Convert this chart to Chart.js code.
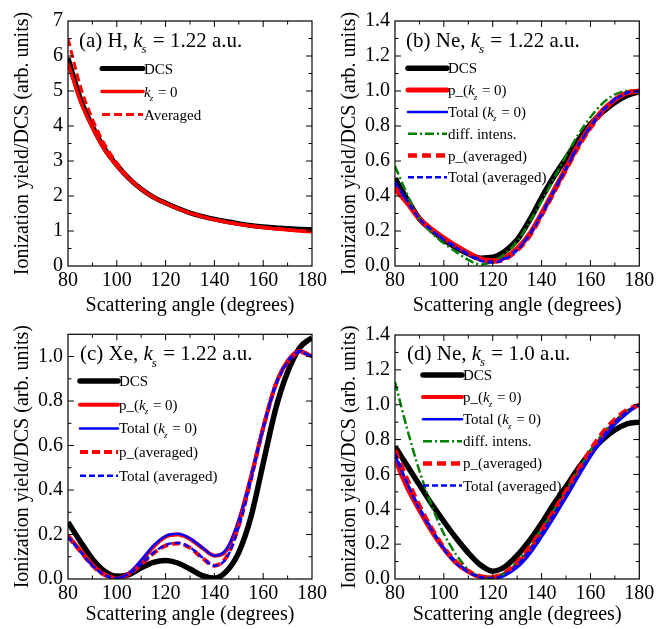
<!DOCTYPE html>
<html lang="en">
<head>
<meta charset="UTF-8">
<script src="https://cdn.jsdelivr.net/npm/chart.js@4.4.0/dist/chart.umd.min.js"></script>
<title>Ionization yield / DCS</title>
<style>
  body { margin: 0; background: #fff; width: 668px; height: 629px; position: relative; overflow: hidden; }
  canvas { position: absolute; }
</style>
</head>
<body>
<canvas id="pa" width="334" height="320" style="left:0;top:0;width:334px;height:320px"></canvas>
<canvas id="pb" width="334" height="320" style="left:334px;top:0;width:334px;height:320px"></canvas>
<canvas id="pc" width="334" height="319" style="left:0;top:310px;width:334px;height:319px"></canvas>
<canvas id="pd" width="334" height="319" style="left:334px;top:310px;width:334px;height:319px"></canvas>
<script>
// scattering angle (degrees)
var angles = [80, 85, 90, 95, 100, 105, 110, 115, 120, 125, 130, 135, 140, 145, 150, 155, 160, 165, 170, 175, 180];

// (a) H, ks = 1.22
var hDcs = [5.95, 4.8, 4.0, 3.35, 2.88, 2.5, 2.2, 1.97, 1.8, 1.65, 1.52, 1.42, 1.34, 1.27, 1.21, 1.16, 1.12, 1.09, 1.07, 1.05, 1.04];
var hKz0 = [5.8, 4.72, 3.95, 3.32, 2.86, 2.49, 2.19, 1.96, 1.79, 1.64, 1.51, 1.41, 1.32, 1.25, 1.19, 1.14, 1.1, 1.06, 1.03, 1.0, 0.98];
var hAvg = [6.5, 5.15, 4.2, 3.48, 2.95, 2.53, 2.22, 1.98, 1.8, 1.65, 1.52, 1.42, 1.33, 1.26, 1.2, 1.15, 1.11, 1.07, 1.04, 1.01, 0.99];

// (b) Ne, ks = 1.22
var neDcs    = [0.50, 0.38, 0.27, 0.205, 0.15, 0.105, 0.07, 0.045, 0.05, 0.085, 0.15, 0.26, 0.39, 0.51, 0.615, 0.72, 0.81, 0.88, 0.935, 0.975, 0.995];
var neP0     = [0.44, 0.36, 0.27, 0.21, 0.16, 0.115, 0.075, 0.04, 0.03, 0.05, 0.10, 0.18, 0.30, 0.43, 0.56, 0.69, 0.80, 0.89, 0.95, 0.99, 1.0];
var neTot0   = [0.47, 0.37, 0.27, 0.205, 0.155, 0.11, 0.07, 0.035, 0.025, 0.045, 0.095, 0.18, 0.30, 0.43, 0.56, 0.69, 0.80, 0.89, 0.955, 0.99, 1.0];
var neDiff   = [0.57, 0.41, 0.27, 0.19, 0.13, 0.08, 0.035, 0.008, 0.025, 0.07, 0.14, 0.25, 0.37, 0.50, 0.63, 0.75, 0.85, 0.93, 0.98, 1.0, 0.985];
var nePAvg   = [0.45, 0.36, 0.27, 0.21, 0.16, 0.115, 0.075, 0.04, 0.025, 0.04, 0.09, 0.17, 0.29, 0.42, 0.55, 0.68, 0.79, 0.88, 0.95, 0.99, 1.0];
var neTotAvg = [0.48, 0.37, 0.27, 0.205, 0.15, 0.105, 0.065, 0.03, 0.02, 0.04, 0.09, 0.175, 0.29, 0.425, 0.555, 0.685, 0.795, 0.885, 0.95, 0.99, 1.0];

// (c) Xe, ks = 1.22
var xeDcs    = [0.255, 0.17, 0.09, 0.035, 0.012, 0.02, 0.05, 0.075, 0.083, 0.072, 0.045, 0.015, 0.003, 0.035, 0.12, 0.28, 0.52, 0.76, 0.93, 1.04, 1.085];
var xeP0     = [0.195, 0.13, 0.065, 0.02, 0.003, 0.025, 0.08, 0.145, 0.19, 0.2, 0.18, 0.14, 0.105, 0.13, 0.26, 0.46, 0.68, 0.87, 0.98, 1.025, 1.0];
var xeTot0   = [0.19, 0.125, 0.06, 0.018, 0.004, 0.028, 0.085, 0.15, 0.193, 0.203, 0.183, 0.142, 0.105, 0.135, 0.265, 0.465, 0.685, 0.875, 0.98, 1.025, 1.0];
var xePAvg   = [0.19, 0.125, 0.06, 0.018, 0.004, 0.022, 0.065, 0.115, 0.15, 0.16, 0.14, 0.095, 0.06, 0.10, 0.24, 0.45, 0.68, 0.87, 0.975, 1.02, 1.0];
var xeTotAvg = [0.19, 0.125, 0.06, 0.018, 0.004, 0.024, 0.068, 0.118, 0.153, 0.162, 0.142, 0.097, 0.06, 0.095, 0.235, 0.445, 0.675, 0.865, 0.975, 1.02, 1.0];

// (d) Ne, ks = 1.0
var ne1Dcs    = [0.76, 0.65, 0.54, 0.43, 0.33, 0.235, 0.15, 0.08, 0.045, 0.07, 0.135, 0.22, 0.32, 0.43, 0.53, 0.635, 0.725, 0.80, 0.855, 0.89, 0.90];
var ne1P0     = [0.68, 0.52, 0.39, 0.27, 0.17, 0.09, 0.04, 0.012, 0.01, 0.03, 0.085, 0.165, 0.265, 0.375, 0.49, 0.61, 0.72, 0.82, 0.90, 0.96, 1.0];
var ne1Tot0   = [0.71, 0.55, 0.41, 0.29, 0.18, 0.10, 0.045, 0.012, 0.004, 0.02, 0.065, 0.14, 0.24, 0.35, 0.465, 0.585, 0.70, 0.80, 0.885, 0.95, 1.0];
var ne1Diff   = [1.13, 0.86, 0.62, 0.42, 0.26, 0.14, 0.055, 0.01, 0.005, 0.035, 0.10, 0.185, 0.285, 0.395, 0.51, 0.625, 0.735, 0.835, 0.91, 0.965, 1.0];
var ne1PAvg   = [0.74, 0.57, 0.42, 0.29, 0.18, 0.10, 0.045, 0.015, 0.01, 0.035, 0.095, 0.18, 0.28, 0.39, 0.505, 0.625, 0.74, 0.84, 0.915, 0.97, 1.0];
var ne1TotAvg = [0.72, 0.55, 0.40, 0.28, 0.17, 0.09, 0.04, 0.01, 0.005, 0.025, 0.08, 0.16, 0.26, 0.37, 0.48, 0.60, 0.715, 0.815, 0.90, 0.96, 1.0];

var serif = '"Liberation Serif", "Times New Roman", serif';

// text with k_s / k_z : italic k + subscript letter
function rich(ctx, text, x, y, size) {
  var parts = text.split(/(k_[a-z])/);
  for (var i = 0; i < parts.length; i++) {
    var p = parts[i];
    if (!p) continue;
    if (/^k_[a-z]$/.test(p)) {
      ctx.font = 'italic ' + size + 'px ' + serif;
      ctx.fillText('k', x, y);
      x += ctx.measureText('k').width;
      ctx.font = 'italic ' + Math.round(size * 0.62) + 'px ' + serif;
      ctx.fillText(p[2], x - 1, y + size * 0.3);
      x += ctx.measureText(p[2]).width;
    } else {
      ctx.font = size + 'px ' + serif;
      ctx.fillText(p, x, y);
      x += ctx.measureText(p).width;
    }
  }
}

// box round the plot with inward ticks on all four sides
var frame = {
  id: 'frame',
  afterDatasetsDraw: function (chart, args, o) {
    var ctx = chart.ctx, a = chart.chartArea, sx = chart.scales.x, sy = chart.scales.y;
    ctx.save();
    ctx.strokeStyle = '#000';
    ctx.lineWidth = 1.2;
    ctx.strokeRect(a.left, a.top, a.right - a.left, a.bottom - a.top);
    ctx.lineWidth = 1;
    ctx.beginPath();
    var n, v, p, len;
    for (n = 1; (v = sx.min + n * o.xMinor) < sx.max - 1e-9; n++) {
      p = sx.getPixelForValue(v);
      len = Math.abs(v / o.xMajor - Math.round(v / o.xMajor)) < 1e-6 ? 6 : 3.5;
      ctx.moveTo(p, a.bottom); ctx.lineTo(p, a.bottom - len);
      ctx.moveTo(p, a.top); ctx.lineTo(p, a.top + len);
    }
    for (n = 1; (v = sy.min + n * o.yMinor) < sy.max - 1e-9; n++) {
      p = sy.getPixelForValue(v);
      len = Math.abs(v / o.yMajor - Math.round(v / o.yMajor)) < 1e-6 ? 6 : 3.5;
      ctx.moveTo(a.left, p); ctx.lineTo(a.left + len, p);
      ctx.moveTo(a.right, p); ctx.lineTo(a.right - len, p);
    }
    ctx.stroke();
    ctx.restore();
  }
};

// panel label and legend inside the plot
var notes = {
  id: 'notes',
  afterDraw: function (chart, args, o) {
    var ctx = chart.ctx, a = chart.chartArea;
    ctx.save();
    ctx.textBaseline = 'alphabetic';
    ctx.fillStyle = '#000';
    rich(ctx, o.title, a.left + o.tx, a.top + o.ty, 21);
    chart.data.datasets.forEach(function (d, i) {
      var x = a.left + o.lx, y = a.top + o.ly + i * o.dy;
      ctx.beginPath();
      ctx.strokeStyle = d.borderColor;
      ctx.lineWidth = d.borderWidth;
      ctx.setLineDash(d.borderDash || []);
      ctx.lineCap = d.borderDash && d.borderDash.length ? 'butt' : 'round';
      ctx.moveTo(x, y);
      ctx.lineTo(x + o.len, y);
      ctx.stroke();
      ctx.setLineDash([]);
      ctx.fillStyle = '#000';
      rich(ctx, d.label, x + o.len + 1, y + 5, 15);
    });
    ctx.restore();
  }
};

function line(label, vals, color, width, dash, order) {
  return {
    label: label,
    data: vals.map(function (v, i) { return { x: angles[i], y: v }; }),
    borderColor: color,
    borderWidth: width,
    borderDash: dash,
    pointRadius: 0,
    cubicInterpolationMode: 'monotone',
    fill: false,
    order: order
  };
}

function panel(id, p) {
  new Chart(document.getElementById(id), {
    type: 'line',
    data: { datasets: p.datasets },
    plugins: [frame, notes],
    options: {
      responsive: false,
      animation: false,
      devicePixelRatio: 1,
      layout: { padding: { left: 0, top: p.padTop, right: p.padRight, bottom: 0 } },
      plugins: {
        legend: { display: false },
        tooltip: { enabled: false },
        frame: { xMinor: 10, xMajor: 20, yMinor: p.yMinor, yMajor: p.yMajor },
        notes: p.notes
      },
      scales: {
        x: {
          type: 'linear', min: 80, max: 180,
          grid: { display: false, drawTicks: false },
          border: { display: false },
          ticks: { stepSize: 20, padding: 3, color: '#000', font: { family: serif, size: 20 } },
          title: { display: true, text: 'Scattering angle (degrees)', color: '#000',
                   font: { family: serif, size: 20 }, padding: { top: 0, bottom: 2 } },
          afterFit: function (s) { s.height = p.xHeight; }
        },
        y: {
          type: 'linear', min: 0, max: p.yMax,
          grid: { display: false, drawTicks: false },
          border: { display: false },
          ticks: {
            stepSize: p.yMajor, padding: 5, color: '#000', font: { family: serif, size: 20 },
            callback: function (v) { return p.yMajor < 1 ? v.toFixed(1) : String(v); }
          },
          afterBuildTicks: function (s) {
            s.ticks = s.ticks.filter(function (t) {
              return Math.abs(t.value / p.yMajor - Math.round(t.value / p.yMajor)) < 1e-6;
            });
          },
          title: { display: true, text: 'Ionization yield/DCS (arb. units)', color: '#000',
                   font: { family: serif, size: 20 }, padding: { top: p.yTitlePad, bottom: 0 } },
          afterFit: function (s) { s.width = p.yWidth; }
        }
      }
    }
  });
}

var RED = '#ff0000', BLUE = '#0000ff', GREEN = '#008000', BLACK = '#000000';

panel('pa', {
  padTop: 21, padRight: 22, xHeight: 54, yWidth: 68, yTitlePad: 10.5,
  yMax: 7, yMajor: 1, yMinor: 0.5,
  notes: { title: '(a) H, k_s = 1.22 a.u.', tx: 11, ty: 26, lx: 34, ly: 47.5, dy: 23, len: 41 },
  datasets: [
    line('DCS', hDcs, BLACK, 5, [], 3),
    line('k_z = 0', hKz0, RED, 3.5, [], 2),
    line('Averaged', hAvg, RED, 3, [8, 4], 1)
  ]
});

panel('pb', {
  padTop: 21, padRight: 28.7, xHeight: 54, yWidth: 61, yTitlePad: 4,
  yMax: 1.4, yMajor: 0.2, yMinor: 0.1,
  notes: { title: '(b) Ne, k_s = 1.22 a.u.', tx: 11, ty: 26, lx: 13, ly: 47.3, dy: 21.8, len: 39 },
  datasets: [
    line('DCS', neDcs, BLACK, 5.5, [], 6),
    line('p_(k_z = 0)', neP0, RED, 5, [], 5),
    line('Total (k_z = 0)', neTot0, BLUE, 2.5, [], 4),
    line('diff. intens.', neDiff, GREEN, 2.5, [9, 3, 2, 3], 3),
    line('p_(averaged)', nePAvg, RED, 4.5, [9, 5], 2),
    line('Total (averaged)', neTotAvg, BLUE, 2.5, [6, 3], 1)
  ]
});

panel('pc', {
  padTop: 24.3, padRight: 22, xHeight: 50, yWidth: 68, yTitlePad: 10.5,
  yMax: 1.1, yMajor: 0.2, yMinor: 0.1,
  notes: { title: '(c) Xe, k_s = 1.22 a.u.', tx: 12, ty: 26, lx: 12, ly: 46.7, dy: 23.7, len: 38 },
  datasets: [
    line('DCS', xeDcs, BLACK, 5.5, [], 5),
    line('p_(k_z = 0)', xeP0, RED, 4, [], 4),
    line('Total (k_z = 0)', xeTot0, BLUE, 2.5, [], 3),
    line('p_(averaged)', xePAvg, RED, 4, [8, 4], 2),
    line('Total (averaged)', xeTotAvg, BLUE, 2.5, [6, 3], 1)
  ]
});

panel('pd', {
  padTop: 25, padRight: 28.7, xHeight: 50, yWidth: 61, yTitlePad: 4,
  yMax: 1.4, yMajor: 0.2, yMinor: 0.1,
  notes: { title: '(d) Ne, k_s = 1.0 a.u.', tx: 12, ty: 25, lx: 28, ly: 40, dy: 22.1, len: 39 },
  datasets: [
    line('DCS', ne1Dcs, BLACK, 5.5, [], 6),
    line('p_(k_z = 0)', ne1P0, RED, 4, [], 5),
    line('Total (k_z = 0)', ne1Tot0, BLUE, 2.5, [], 4),
    line('diff. intens.', ne1Diff, GREEN, 2.5, [9, 3, 2, 3], 3),
    line('p_(averaged)', ne1PAvg, RED, 4.5, [9, 5], 2),
    line('Total (averaged)', ne1TotAvg, BLUE, 2.5, [6, 3], 1)
  ]
});
</script>
</body>
</html>
